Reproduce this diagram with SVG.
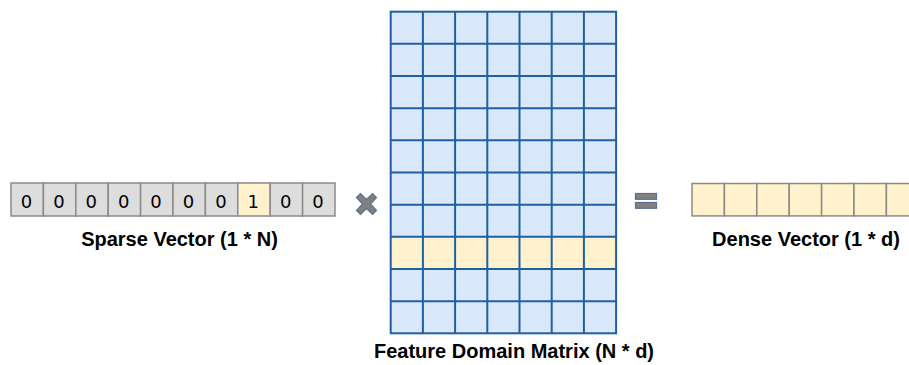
<svg xmlns="http://www.w3.org/2000/svg" width="909" height="365" viewBox="0 0 909 365">
  <style>
    .sp { fill: #dddddd; stroke: #8a8a8a; stroke-width: 1.5; }
    .hi { fill: #fff2cc; stroke: #8a8a8a; stroke-width: 1.5; }
    .mx { fill: #dae8fc; }
    .mxh { fill: #fff2cc; }
    .dv { fill: #fff2cc; stroke: #8a8a8a; stroke-width: 1.5; }
    .digit { font-family: "DejaVu Sans", sans-serif; font-size: 18px; fill: #000; text-anchor: middle; }
    .label { font-family: "Liberation Sans", Arial, sans-serif; font-size: 20px; font-weight: bold; fill: #000; text-anchor: middle; }
    .op { fill: #808080; stroke: #5a6f94; stroke-width: 1.2; }
  </style>
  <rect width="909" height="365" fill="#ffffff"/>

  <!-- sparse one-hot vector -->
  <g id="sparse-vector">
    <rect class="sp" x="11" y="183" width="32.4" height="33"/>
    <rect class="sp" x="43.4" y="183" width="32.4" height="33"/>
    <rect class="sp" x="75.8" y="183" width="32.4" height="33"/>
    <rect class="sp" x="108.2" y="183" width="32.4" height="33"/>
    <rect class="sp" x="140.6" y="183" width="32.4" height="33"/>
    <rect class="sp" x="173" y="183" width="32.4" height="33"/>
    <rect class="sp" x="205.4" y="183" width="32.4" height="33"/>
    <rect class="hi" x="237.8" y="183" width="32.4" height="33"/>
    <rect class="sp" x="270.2" y="183" width="32.4" height="33"/>
    <rect class="sp" x="302.6" y="183" width="32.4" height="33"/>
    <text class="digit" x="26.5" y="207.5">0</text>
    <text class="digit" x="58.9" y="207.5">0</text>
    <text class="digit" x="91.3" y="207.5">0</text>
    <text class="digit" x="123.7" y="207.5">0</text>
    <text class="digit" x="156.1" y="207.5">0</text>
    <text class="digit" x="188.5" y="207.5">0</text>
    <text class="digit" x="220.9" y="207.5">0</text>
    <text class="digit" x="253.3" y="207.5">1</text>
    <text class="digit" x="285.7" y="207.5">0</text>
    <text class="digit" x="318.1" y="207.5">0</text>
    <text class="label" x="179.5" y="246">Sparse Vector (1 * N)</text>
  </g>

  <!-- multiply operator -->
  <g id="times">
    <polygon class="op" points="356.5,197.5 360.5,193.5 366.5,199.5 372.5,193.5 376.5,197.5 370.5,204 376.5,210.5 372.5,214.5 366.5,208.5 360.5,214.5 356.5,210.5 362.5,204"/>
  </g>

  <!-- embedding matrix, 10 rows x 7 columns -->
  <g id="matrix">
    <rect class="mx" x="390.7" y="11.7" width="225.4" height="321.6"/>
    <rect class="mxh" x="390.7" y="236.82" width="225.4" height="32.16"/>
    <g stroke="#1f5fa6" stroke-width="2" fill="none">
      <path d="M422.9 11.7V333.3M455.1 11.7V333.3M487.3 11.7V333.3M519.5 11.7V333.3M551.7 11.7V333.3M583.9 11.7V333.3"/>
      <path d="M390.7 43.86H616.1M390.7 76.02H616.1M390.7 108.18H616.1M390.7 140.34H616.1M390.7 172.5H616.1M390.7 204.66H616.1M390.7 236.82H616.1M390.7 268.98H616.1M390.7 301.14H616.1"/>
      <rect x="390.7" y="11.7" width="225.4" height="321.6"/>
    </g>
    <text class="label" x="514" y="357.5">Feature Domain Matrix (N * d)</text>
  </g>

  <!-- equals operator -->
  <g id="equals">
    <rect class="op" x="635.5" y="193.5" width="21" height="5.8"/>
    <rect class="op" x="635.5" y="202.5" width="21" height="5.8"/>
  </g>

  <!-- dense embedding vector -->
  <g id="dense-vector">
    <rect class="dv" x="692" y="183.5" width="32.4" height="32.4"/>
    <rect class="dv" x="724.4" y="183.5" width="32.4" height="32.4"/>
    <rect class="dv" x="756.8" y="183.5" width="32.4" height="32.4"/>
    <rect class="dv" x="789.2" y="183.5" width="32.4" height="32.4"/>
    <rect class="dv" x="821.6" y="183.5" width="32.4" height="32.4"/>
    <rect class="dv" x="854" y="183.5" width="32.4" height="32.4"/>
    <rect class="dv" x="886.4" y="183.5" width="32.4" height="32.4"/>
    <text class="label" x="806" y="246">Dense Vector (1 * d)</text>
  </g>
</svg>
